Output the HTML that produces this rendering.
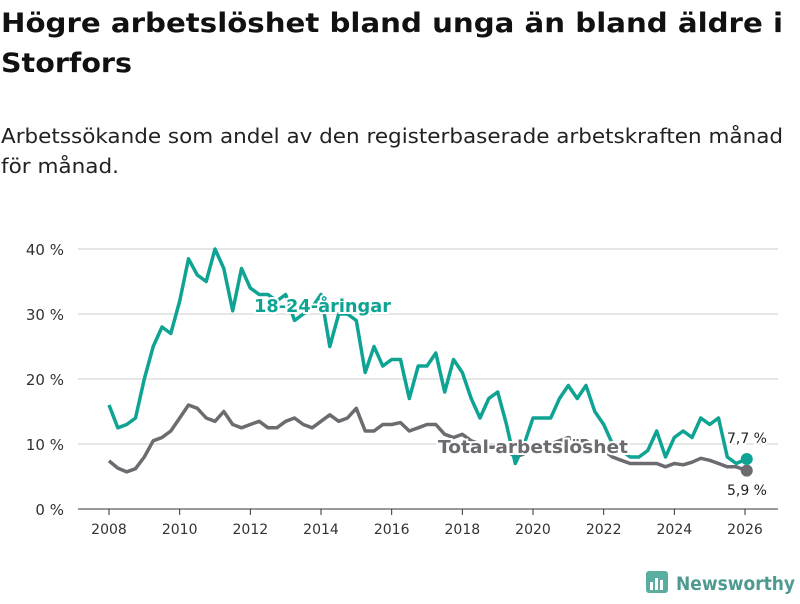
<!DOCTYPE html>
<html><head><meta charset="utf-8"><style>
body{margin:0;background:#fff;width:800px;height:600px;overflow:hidden;font-family:"DejaVu Sans","Liberation Sans",sans-serif}
</style></head><body>
<svg width="800" height="600" xmlns="http://www.w3.org/2000/svg">
<text x="1" y="32" font-size="27" font-weight="bold" fill="#111" textLength="782" lengthAdjust="spacingAndGlyphs">Högre arbetslöshet bland unga än bland äldre i</text>
<text x="1" y="72" font-size="27" font-weight="bold" fill="#111" textLength="131" lengthAdjust="spacingAndGlyphs">Storfors</text>
<text x="1" y="143" font-size="20" fill="#222" textLength="782" lengthAdjust="spacingAndGlyphs">Arbetssökande som andel av den registerbaserade arbetskraften månad</text>
<text x="1" y="173" font-size="20" fill="#222" textLength="118" lengthAdjust="spacingAndGlyphs">för månad.</text>
<g id="grid"></g><g id="xax"></g><g id="lines"></g><g id="labels"></g>
<g>
<rect x="646" y="571" width="22" height="22" rx="3" fill="#5aaea0"/>
<rect x="650" y="582" width="3" height="8" fill="#fff"/><rect x="655" y="578" width="3" height="12" fill="#fff"/><rect x="660" y="580" width="3" height="10" fill="#fff"/>
<text x="676" y="590" font-size="19" font-weight="bold" fill="#4f9a90" textLength="119" lengthAdjust="spacingAndGlyphs">Newsworthy</text>
</g>
</svg>
<script>
const yTicks=[0,10,20,30,40];
const yTickLabels=["0 %","10 %","20 %","30 %","40 %"];
const xTicks=[2008,2010,2012,2014,2016,2018,2020,2022,2024,2026];
const dates=[2008,2008.25,2008.5,2008.75,2009,2009.25,2009.5,2009.75,2010,2010.25,2010.5,2010.75,2011,2011.25,2011.5,2011.75,2012,2012.25,2012.5,2012.75,2013,2013.25,2013.5,2013.75,2014,2014.25,2014.5,2014.75,2015,2015.25,2015.5,2015.75,2016,2016.25,2016.5,2016.75,2017,2017.25,2017.5,2017.75,2018,2018.25,2018.5,2018.75,2019,2019.25,2019.5,2019.75,2020,2020.25,2020.5,2020.75,2021,2021.25,2021.5,2021.75,2022,2022.25,2022.5,2022.75,2023,2023.25,2023.5,2023.75,2024,2024.25,2024.5,2024.75,2025,2025.25,2025.5,2025.75,2026.05];
const young=[16,12.5,13,14,20,25,28,27,32,38.5,36,35,40,37,30.5,37,34,33,33,32,33,29,30,31,33,25,30,30,29,21,25,22,23,23,17,22,22,24,18,23,21,17,14,17,18,13,7,10,14,14,14,17,19,17,19,15,13,10,9,8,8,9,12,8,11,12,11,14,13,14,8,7,7.7];
const total=[7.4,6.3,5.7,6.2,8,10.5,11,12,14,16,15.5,14,13.5,15,13,12.5,13,13.5,12.5,12.5,13.5,14,13,12.5,13.5,14.5,13.5,14,15.5,12,12,13,13,13.3,12,12.5,13,13,11.5,11,11.5,10.5,10,9.5,9.5,9,8,8.5,9.5,10,10,10.5,11,10.5,10.5,9.5,9,8,7.5,7,7,7,7,6.5,7,6.8,7.2,7.8,7.5,7,6.5,6.5,5.9];
const NS="http://www.w3.org/2000/svg";
const X=d=>109+(d-2008)*(745-109)/18;
const Y=v=>509-v*6.5;
function mk(tag,attrs,parent){const e=document.createElementNS(NS,tag);for(const k in attrs)e.setAttribute(k,attrs[k]);document.getElementById(parent).appendChild(e);return e;}
yTicks.forEach((t,i)=>{
 const l=mk('line',{x1:78,x2:778,y1:Y(t),y2:Y(t),stroke:t===0?'#333':'#ddd','stroke-width':t===0?1:1.5},'grid');
 
 
 const tx=mk('text',{x:64,y:Y(t)+6,'font-size':15,'text-anchor':'end',fill:'#333'},'grid');
 tx.textContent=yTickLabels[i];
 
 
});
xTicks.forEach(t=>{
 const l=mk('line',{x1:X(t),x2:X(t),y1:509,y2:515,stroke:'#333'},'xax');
 
 
 const tx=mk('text',{x:X(t),y:534,'font-size':14,'text-anchor':'middle',fill:'#333'},'xax');
 tx.textContent=t;
 
 
});
function path(vals){return vals.map((v,i)=>(i?'L':'M')+X(dates[i]).toFixed(1)+','+Y(v).toFixed(1)).join('');}
const pt=mk('path',{d:path(total),fill:'none',stroke:'#6d6b70','stroke-width':3.5,'stroke-linejoin':'round'},'lines');


const py=mk('path',{d:path(young),fill:'none',stroke:'#0fa394','stroke-width':3.5,'stroke-linejoin':'round'},'lines');


const n=dates.length-1;
const d1=mk('circle',{cx:X(dates[n]),cy:Y(total[n]),r:6,fill:'#6d6b70'},'lines');


const d2=mk('circle',{cx:X(dates[n]),cy:Y(young[n]),r:6,fill:'#0fa394'},'lines');


function lab(x,y,txt,fill,name,bold,size,anchor,len){
 const a={x:x,y:y,'font-size':size,'font-weight':bold?'bold':'normal',fill:fill,stroke:'#fff','stroke-width':4,'paint-order':'stroke','text-anchor':anchor||'start'};
 if(len){a.textLength=len;a.lengthAdjust='spacingAndGlyphs';}
 const t=mk('text',a,'labels');
 t.textContent=txt;
 
 
}
lab(254,312,'18-24-åringar','#0fa394','young-series-label',true,18,'start',137);
lab(438,453,'Total arbetslöshet','#6d6b70','total-series-label',true,18,'start',190);
lab(767,443,(young[n]+'').replace('.',',')+' %','#222','young-end-value',false,14,'end');
lab(767,495,(total[n]+'').replace('.',',')+' %','#222','total-end-value',false,14,'end');
</script>
</body></html>
